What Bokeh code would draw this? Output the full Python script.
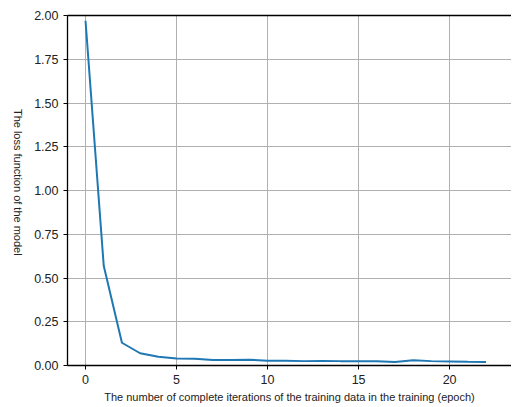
import math
from bokeh.plotting import figure
from bokeh.layouts import row
from bokeh.models import Range1d, FixedTicker, LinearAxis, NumeralTickFormatter
from bokeh.core.properties import value
from bokeh.embed import file_html
from bokeh.resources import INLINE

epochs = list(range(23))
loss = [1.97, 0.57, 0.13, 0.07, 0.05, 0.04, 0.038, 0.031, 0.031, 0.033, 0.027,
        0.027, 0.025, 0.026, 0.025, 0.025, 0.024, 0.02, 0.03, 0.025, 0.023, 0.021, 0.02]
x_ticks = [0, 5, 10, 15, 20]
y_ticks = [0.0, 0.25, 0.5, 0.75, 1.0, 1.25, 1.5, 1.75, 2.0]
x_label = "The number of complete iterations of the training data in the training (epoch)"
y_label = "The loss function of the model"

FONT = "Liberation Sans"
H = 405
LW = 28

# narrow panel holding the y-axis title, reading top-to-bottom
lp = figure(width=LW, height=H, output_backend="svg", toolbar_location=None,
            x_range=Range1d(0, LW), y_range=Range1d(0, H),
            x_axis_type=None, y_axis_type=None,
            min_border=0, min_border_left=0, min_border_right=0, min_border_top=0, min_border_bottom=0)
lp.outline_line_color = None
lp.xgrid.visible = False
lp.ygrid.visible = False
lp.text(x=[17], y=[H - 193], text=[y_label], angle=-math.pi / 2,
        text_align="center", text_baseline="middle",
        text_font=value(FONT), text_font_size="11px", text_color="#222222")

p = figure(width=511 - LW, height=H, output_backend="svg", toolbar_location=None,
           x_range=Range1d(-0.99, 23.4), y_range=Range1d(0, 2.0),
           min_border_left=67 - LW, min_border_top=15, min_border_right=0, min_border_bottom=40)
p.outline_line_color = None
p.background_fill_color = "white"
p.border_fill_color = "white"

p.line(epochs, loss, line_color="#1f77b4", line_width=2)

for ax in (p.xaxis[0], p.yaxis[0]):
    ax.axis_line_color = "black"
    ax.axis_line_width = 1.3
    ax.major_tick_line_color = "black"
    ax.major_tick_in = 0
    ax.major_tick_out = 4
    ax.minor_tick_line_color = None
    ax.major_label_text_font = FONT
    ax.major_label_text_font_size = "12.5px"
    ax.major_label_text_color = "#222222"
    ax.axis_label_text_font = FONT
    ax.axis_label_text_font_size = "11px"
    ax.axis_label_text_font_style = "normal"
    ax.axis_label_text_color = "#222222"

p.xaxis[0].ticker = FixedTicker(ticks=x_ticks)
p.yaxis[0].ticker = FixedTicker(ticks=y_ticks)
p.yaxis[0].formatter = NumeralTickFormatter(format="0.00")
p.xaxis[0].axis_label = x_label
p.xaxis[0].axis_label_standoff = 4
p.xaxis[0].major_label_standoff = 5
p.yaxis[0].major_label_standoff = 5

top = LinearAxis(ticker=FixedTicker(ticks=[]), axis_line_color="black", axis_line_width=1.3,
                 major_tick_line_color=None, minor_tick_line_color=None,
                 major_label_text_font_size="0px")
p.add_layout(top, "above")

p.xgrid.grid_line_color = "#b0b0b0"
p.ygrid.grid_line_color = "#b0b0b0"
p.xgrid.grid_line_width = 1
p.ygrid.grid_line_width = 1

layout = row(lp, p, spacing=0)
open("out.html", "w").write(file_html(layout, INLINE))
